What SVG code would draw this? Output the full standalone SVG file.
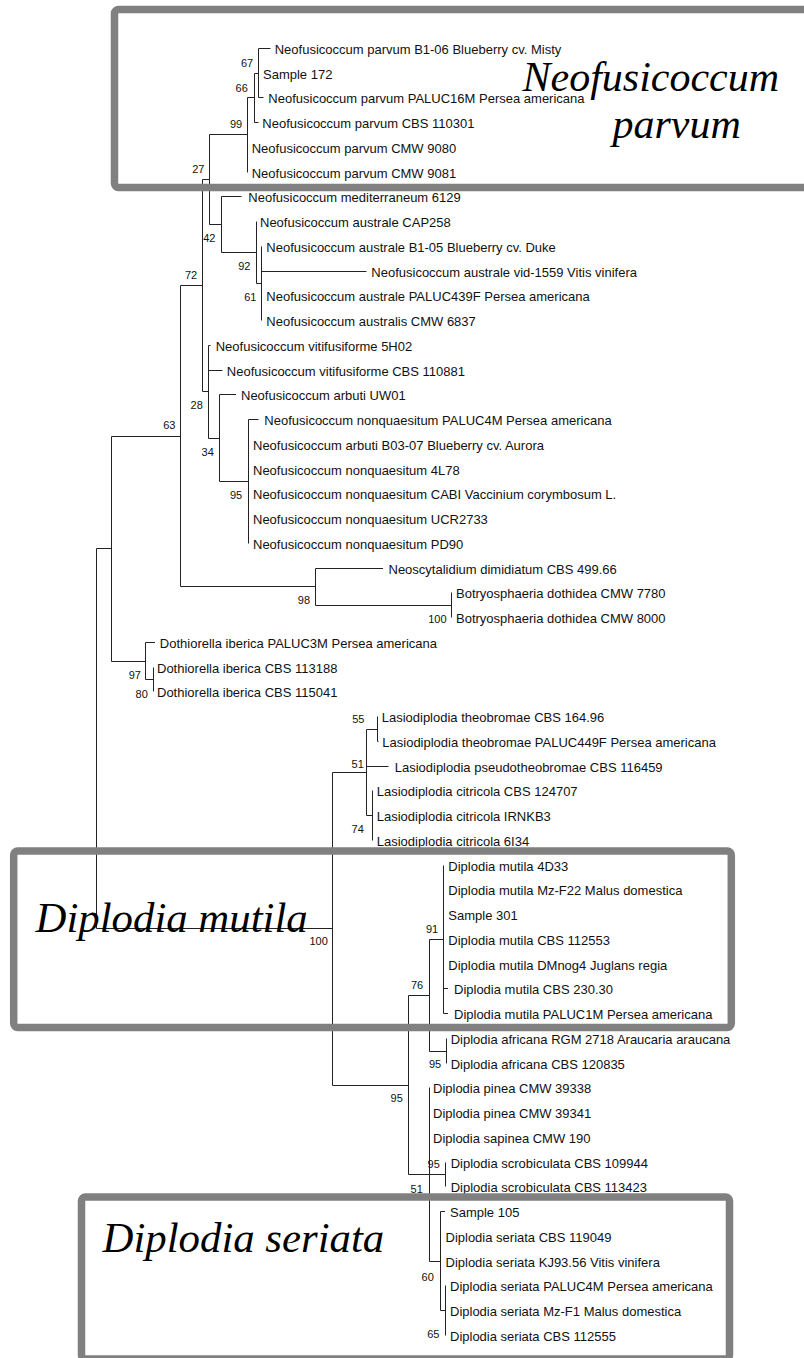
<svg xmlns="http://www.w3.org/2000/svg" width="804" height="1358" viewBox="0 0 804 1358">
<style>
.t{font-family:"Liberation Sans",Arial,sans-serif;font-size:13px;fill:#111}
.b{font-family:"Liberation Sans",Arial,sans-serif;font-size:11px;fill:#111;text-anchor:end}
.big{font-family:"Liberation Serif","Times New Roman",serif;font-style:italic;font-size:42px;fill:#000}
.big2{font-family:"Liberation Serif","Times New Roman",serif;font-style:italic;font-size:42.8px;fill:#000}
.e{fill:none;stroke:#222;stroke-width:1}
.box{fill:none;stroke:#808080;stroke-width:7.5}
</style>
<rect width="804" height="1358" fill="#fff"/>
<g id="connectors" class="e">
<path d="M96.5 548.5V928.5M96.5 548.5H111.5M96.5 928.5H332.5"/>
<path d="M111.5 436.5V661.5M111.5 436.5H180.5M111.5 661.5H145.5"/>
<path d="M180.5 285.5V586.5M180.5 285.5H202.5M180.5 586.5H315.5"/>
<path d="M202.5 179.5V391.5M202.5 179.5H209.5M202.5 391.5H208.5"/>
<path d="M209.5 134.5V224.5M209.5 134.5H247.5M209.5 224.5H221.5"/>
<path d="M247.5 97.5V172.5M247.5 97.5H254.5"/>
<path d="M254.5 73.5V122.5M254.5 73.5H258.5M254.5 122.5H258.5"/>
<path d="M258.5 48.5V97.5M258.5 48.5H270.5M258.5 97.5H263.5"/>
<path d="M221.5 196.5V252.5M221.5 196.5H241.5M221.5 252.5H256.5"/>
<path d="M256.5 221.5V283.5M256.5 283.5H261.5"/>
<path d="M261.5 246.5V320.5M261.5 271.5H366.5"/>
<path d="M208.5 345.5V438.5M208.5 345.5H210.5M208.5 370.5H222.5M208.5 438.5H219.5"/>
<path d="M219.5 394.5V481.5M219.5 394.5H236M219.5 481.5H248.5"/>
<path d="M248.5 419.5V543.5M248.5 419.5H258.5"/>
<path d="M315.5 568.5V605.5M315.5 568.5H383M315.5 605.5H451.5"/>
<path d="M451.5 592.5V617.5"/>
<path d="M145.5 642.5V679.5M145.5 642.5H155M145.5 679.5H153.5"/>
<path d="M153.5 667.5V691.5"/>
<path d="M332.5 772.5V1085.5M332.5 772.5H366.5M332.5 1085.5H408.5"/>
<path d="M366.5 729.5V815.5M366.5 729.5H377.5M366.5 766.5H388.5M366.5 815.5H372.5"/>
<path d="M377.5 716.5V741.5M377.5 741.5H378.5"/>
<path d="M372.5 790.5V840.5"/>
<path d="M408.5 995.5V1174.5M408.5 995.5H429.5M408.5 1174.5H429.5"/>
<path d="M429.5 939.5V1051.5M429.5 939.5H443.5M429.5 1051.5H446.5"/>
<path d="M443.5 865.5V1013.5M443.5 988.5H448M443.5 1013.5H448"/>
<path d="M446.5 1038.5V1063.5"/>
<path d="M429.5 1087.5V1261.5M429.5 1174.5H445.5M429.5 1261.5H440.5"/>
<path d="M445.5 1162.5V1186.5"/>
<path d="M440.5 1211.5V1310.5M440.5 1211.5H445M440.5 1310.5H445.5"/>
<path d="M445.5 1285.5V1335.5"/>
</g>
<g id="leaves">
<g id="n0"><text class="t" x="274.7" y="53.5">Neofusicoccum parvum B1-06 Blueberry cv. Misty</text></g>
<g id="n1"><text class="t" x="263" y="78.5">Sample 172</text></g>
<g id="n2"><text class="t" x="268.3" y="102.5">Neofusicoccum parvum PALUC16M Persea americana</text></g>
<g id="n3"><text class="t" x="262.3" y="127.5">Neofusicoccum parvum CBS 110301</text></g>
<g id="n4"><text class="t" x="251.7" y="152.5">Neofusicoccum parvum CMW 9080</text></g>
<g id="n5"><text class="t" x="251.7" y="177.5">Neofusicoccum parvum CMW 9081</text></g>
<g id="n6"><text class="t" x="248.3" y="201.5">Neofusicoccum mediterraneum 6129</text></g>
<g id="n7"><text class="t" x="260" y="226.5">Neofusicoccum australe CAP258</text></g>
<g id="n8"><text class="t" x="266.3" y="251.5">Neofusicoccum australe B1-05 Blueberry cv. Duke</text></g>
<g id="n9"><text class="t" x="371.3" y="276.5">Neofusicoccum australe vid-1559 Vitis vinifera</text></g>
<g id="n10"><text class="t" x="266.3" y="300.5">Neofusicoccum australe PALUC439F Persea americana</text></g>
<g id="n11"><text class="t" x="266.3" y="325.5">Neofusicoccum australis CMW 6837</text></g>
<g id="n12"><text class="t" x="215.7" y="350.5">Neofusicoccum vitifusiforme 5H02</text></g>
<g id="n13"><text class="t" x="226.8" y="375.5">Neofusicoccum vitifusiforme CBS 110881</text></g>
<g id="n14"><text class="t" x="241" y="399.5">Neofusicoccum arbuti UW01</text></g>
<g id="n15"><text class="t" x="264.3" y="424.5">Neofusicoccum nonquaesitum PALUC4M Persea americana</text></g>
<g id="n16"><text class="t" x="253" y="449.5">Neofusicoccum arbuti B03-07 Blueberry cv. Aurora</text></g>
<g id="n17"><text class="t" x="253" y="474.5">Neofusicoccum nonquaesitum 4L78</text></g>
<g id="n18"><text class="t" x="253" y="498.5">Neofusicoccum nonquaesitum CABI Vaccinium corymbosum L.</text></g>
<g id="n19"><text class="t" x="253" y="523.5">Neofusicoccum nonquaesitum UCR2733</text></g>
<g id="n20"><text class="t" x="253" y="548.5">Neofusicoccum nonquaesitum PD90</text></g>
<g id="n21"><text class="t" x="388.5" y="573.5">Neoscytalidium dimidiatum CBS 499.66</text></g>
<g id="n22"><text class="t" x="456" y="597.5">Botryosphaeria dothidea CMW 7780</text></g>
<g id="n23"><text class="t" x="456" y="622.5">Botryosphaeria dothidea CMW 8000</text></g>
<g id="n24"><text class="t" x="159.8" y="647.5">Dothiorella iberica PALUC3M Persea americana</text></g>
<g id="n25"><text class="t" x="157" y="672.5">Dothiorella iberica CBS 113188</text></g>
<g id="n26"><text class="t" x="157" y="696.5">Dothiorella iberica CBS 115041</text></g>
<g id="n27"><text class="t" x="381.7" y="721.5">Lasiodiplodia theobromae CBS 164.96</text></g>
<g id="n28"><text class="t" x="382.3" y="746.5">Lasiodiplodia theobromae PALUC449F Persea americana</text></g>
<g id="n29"><text class="t" x="394.7" y="771.5">Lasiodiplodia pseudotheobromae CBS 116459</text></g>
<g id="n30"><text class="t" x="376.7" y="795.5">Lasiodiplodia citricola CBS 124707</text></g>
<g id="n31"><text class="t" x="376.7" y="820.5">Lasiodiplodia citricola IRNKB3</text></g>
<g id="n32"><text class="t" x="376.7" y="845.5">Lasiodiplodia citricola 6I34</text></g>
<g id="n33"><text class="t" x="448.3" y="870.5">Diplodia mutila 4D33</text></g>
<g id="n34"><text class="t" x="448.3" y="894.5">Diplodia mutila Mz-F22 Malus domestica</text></g>
<g id="n35"><text class="t" x="448.3" y="919.5">Sample 301</text></g>
<g id="n36"><text class="t" x="448.3" y="944.5">Diplodia mutila CBS 112553</text></g>
<g id="n37"><text class="t" x="448.3" y="969.5">Diplodia mutila DMnog4 Juglans regia</text></g>
<g id="n38"><text class="t" x="454" y="993.5">Diplodia mutila CBS 230.30</text></g>
<g id="n39"><text class="t" x="454" y="1018.5">Diplodia mutila PALUC1M Persea americana</text></g>
<g id="n40"><text class="t" x="450.7" y="1043.5">Diplodia africana RGM 2718 Araucaria araucana</text></g>
<g id="n41"><text class="t" x="450.7" y="1068.5">Diplodia africana CBS 120835</text></g>
<g id="n42"><text class="t" x="433" y="1092.5">Diplodia pinea CMW 39338</text></g>
<g id="n43"><text class="t" x="433" y="1117.5">Diplodia pinea CMW 39341</text></g>
<g id="n44"><text class="t" x="433" y="1142.5">Diplodia sapinea CMW 190</text></g>
<g id="n45"><text class="t" x="450.7" y="1167.5">Diplodia scrobiculata CBS 109944</text></g>
<g id="n46"><text class="t" x="450.7" y="1191.5">Diplodia scrobiculata CBS 113423</text></g>
<g id="n47"><text class="t" x="450" y="1216.5">Sample 105</text></g>
<g id="n48"><text class="t" x="445.5" y="1241.5">Diplodia seriata CBS 119049</text></g>
<g id="n49"><text class="t" x="445.5" y="1266.5">Diplodia seriata KJ93.56 Vitis vinifera</text></g>
<g id="n50"><text class="t" x="450" y="1290.5">Diplodia seriata PALUC4M Persea americana</text></g>
<g id="n51"><text class="t" x="450" y="1315.5">Diplodia seriata Mz-F1 Malus domestica</text></g>
<g id="n52"><text class="t" x="450" y="1340.5">Diplodia seriata CBS 112555</text></g>
</g>
<g id="support">
<g id="s67"><text class="b" x="253.2" y="66.7">67</text></g>
<g id="s66"><text class="b" x="247.8" y="91.7">66</text></g>
<g id="s99"><text class="b" x="242.2" y="128.3">99</text></g>
<g id="s27"><text class="b" x="204.5" y="173.3">27</text></g>
<g id="s42"><text class="b" x="215.5" y="242.3">42</text></g>
<g id="s92"><text class="b" x="250.5" y="270">92</text></g>
<g id="s61"><text class="b" x="256.5" y="300.7">61</text></g>
<g id="s72"><text class="b" x="197.2" y="279.3">72</text></g>
<g id="s28"><text class="b" x="202.8" y="409">28</text></g>
<g id="s34"><text class="b" x="213.8" y="455.7">34</text></g>
<g id="s95a"><text class="b" x="242.2" y="498.5">95</text></g>
<g id="s63"><text class="b" x="175.5" y="429.3">63</text></g>
<g id="s98"><text class="b" x="310.1" y="604.3">98</text></g>
<g id="s100a"><text class="b" x="446.5" y="622.7">100</text></g>
<g id="s97"><text class="b" x="140.9" y="679">97</text></g>
<g id="s80"><text class="b" x="147.8" y="697.7">80</text></g>
<g id="s55"><text class="b" x="364.5" y="722.7">55</text></g>
<g id="s51a"><text class="b" x="363.8" y="768.3">51</text></g>
<g id="s74"><text class="b" x="363.8" y="832.7">74</text></g>
<g id="s100b"><text class="b" x="327.8" y="945.3">100</text></g>
<g id="s91"><text class="b" x="438.2" y="933.3">91</text></g>
<g id="s76"><text class="b" x="423.2" y="989">76</text></g>
<g id="s95b"><text class="b" x="441.2" y="1068.3">95</text></g>
<g id="s95c"><text class="b" x="402.8" y="1102.3">95</text></g>
<g id="s95d"><text class="b" x="439.8" y="1168.3">95</text></g>
<g id="s51b"><text class="b" x="422.8" y="1192.5">51</text></g>
<g id="s60"><text class="b" x="433.8" y="1280.5">60</text></g>
<g id="s65"><text class="b" x="439.5" y="1338">65</text></g>
</g>
<g id="groups">
<g id="box-parvum"><rect class="box" x="114.5" y="9.5" width="720" height="178" rx="4"/><text class="big" x="522.5" y="90.7">Neofusicoccum</text><text class="big" x="612.5" y="138.3">parvum</text></g>
<g id="box-mutila"><rect class="box" x="13.7" y="851" width="717.6" height="176.5" rx="4"/><text class="big2" x="35.5" y="931.7">Diplodia mutila</text></g>
<g id="box-seriata"><rect class="box" x="81.5" y="1197" width="648" height="162" rx="4"/><text class="big2" x="102.5" y="1251.7">Diplodia seriata</text></g>
</g>
</svg>
